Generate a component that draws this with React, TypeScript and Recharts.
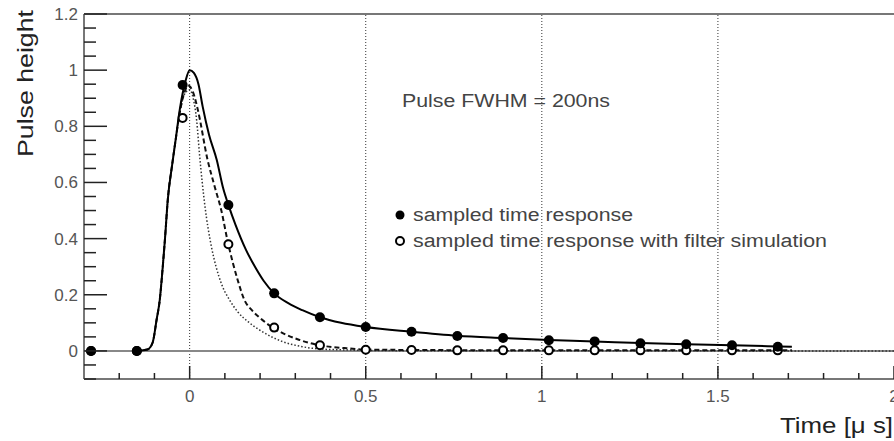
import { ComposedChart, Line, Scatter, XAxis, YAxis, ReferenceLine, Legend } from 'recharts';

const FONT = '"Liberation Sans", Arial, Helvetica, sans-serif';

// sampled points (filled = time response, open = with filter simulation)
const sampleTimes = [-0.28, -0.15, -0.02, 0.11, 0.24, 0.37, 0.5, 0.63, 0.76, 0.89, 1.02, 1.15, 1.28, 1.41, 1.54, 1.67];
const sampledResponse = [0, 0, 0.947, 0.52, 0.205, 0.12, 0.085, 0.068, 0.053, 0.046, 0.038, 0.034, 0.027, 0.024, 0.02, 0.015];
const filteredResponse = [0, 0, 0.83, 0.38, 0.083, 0.02, 0.004, 0.003, 0.002, 0.002, 0.002, 0.002, 0.002, 0.002, 0.002, 0.002];

// solid curve: full pulse response
const solidT = [-0.15, -0.12, -0.105, -0.094, -0.085, -0.077, -0.07, -0.062, -0.05, -0.04, -0.028, -0.012, 0, 0.012, 0.025, 0.037, 0.055, 0.077, 0.095, 0.11, 0.13, 0.16, 0.19, 0.21, 0.24, 0.28, 0.32, 0.37, 0.43, 0.5, 0.63, 0.76, 0.89, 1.02, 1.15, 1.28, 1.41, 1.54, 1.71];
const solidY = [0, 0.005, 0.03, 0.11, 0.18, 0.29, 0.4, 0.54, 0.66, 0.75, 0.86, 0.96, 1.0, 0.99, 0.95, 0.87, 0.77, 0.68, 0.58, 0.52, 0.45, 0.36, 0.29, 0.25, 0.205, 0.17, 0.145, 0.12, 0.1, 0.085, 0.068, 0.054, 0.046, 0.039, 0.034, 0.028, 0.024, 0.02, 0.015];

// dashed curve: with filter simulation
const dashedT = [-0.15, -0.12, -0.105, -0.094, -0.085, -0.077, -0.07, -0.062, -0.05, -0.04, -0.028, -0.015, -0.004, 0.01, 0.023, 0.051, 0.07, 0.09, 0.108, 0.137, 0.156, 0.176, 0.2, 0.23, 0.27, 0.31, 0.37, 0.44, 0.5, 0.7, 1.0, 1.71];
const dashedY = [0, 0.005, 0.03, 0.11, 0.18, 0.29, 0.4, 0.54, 0.66, 0.75, 0.85, 0.92, 0.945, 0.92, 0.86, 0.68, 0.59, 0.5, 0.39, 0.25, 0.18, 0.146, 0.117, 0.088, 0.06, 0.04, 0.02, 0.01, 0.005, 0.003, 0.002, 0.002];

// dotted curve: narrower pulse
const dottedT = [-0.15, -0.12, -0.105, -0.094, -0.085, -0.077, -0.07, -0.062, -0.05, -0.04, -0.028, -0.012, 0, 0.01, 0.02, 0.028, 0.043, 0.062, 0.075, 0.09, 0.114, 0.136, 0.17, 0.207, 0.26, 0.32, 0.4, 0.6, 2.0];
const dottedY = [0, 0.005, 0.03, 0.11, 0.18, 0.29, 0.4, 0.54, 0.66, 0.75, 0.85, 0.92, 0.93, 0.9, 0.82, 0.7, 0.52, 0.37, 0.3, 0.24, 0.18, 0.14, 0.1, 0.068, 0.035, 0.015, 0.005, 0.001, 0];

const xTicks = [-0.2, -0.1, 0, 0.1, 0.2, 0.3, 0.4, 0.5, 0.6, 0.7, 0.8, 0.9, 1, 1.1, 1.2, 1.3, 1.4, 1.5, 1.6, 1.7, 1.8, 1.9, 2];
const xLabels = [0, 0.5, 1, 1.5, 2];
const yTicks = [-0.1, -0.05, 0, 0.05, 0.1, 0.15, 0.2, 0.25, 0.3, 0.35, 0.4, 0.45, 0.5, 0.55, 0.6, 0.65, 0.7, 0.75, 0.8, 0.85, 0.9, 0.95, 1, 1.05, 1.1, 1.15, 1.2];
const yLabels = [0, 0.2, 0.4, 0.6, 0.8, 1, 1.2];
const gridX = [0, 0.5, 1, 1.5];

const pts = (t: number[], y: number[]) => t.map((x, i) => ({ x, y: y[i] }));
const solidData = pts(solidT, solidY);
const dashedData = pts(dashedT, dashedY);
const dottedData = pts(dottedT, dottedY);
const sampledData = pts(sampleTimes, sampledResponse);
const filteredData = pts(sampleTimes, filteredResponse);

const isLabel = (v: number, list: number[]) => list.some(l => Math.abs(l - v) < 1e-6);

function YTick({ x, y, payload }: any) {
  const v = payload.value;
  const major = isLabel(v, yLabels);
  return (
    <g>
      <line x1={x + 6} x2={x + 6 + (major ? 23 : 12)} y1={y} y2={y} stroke="#222" strokeWidth={1.5} />
      {major && (
        <text x={x} y={y} dy={6} textAnchor="end" fontSize={17} fill="#555" fontFamily={FONT}>{String(v)}</text>
      )}
    </g>
  );
}

function XTick({ x, y, payload }: any) {
  const v = payload.value;
  const major = isLabel(v, xLabels);
  return (
    <g>
      <line x1={x} x2={x} y1={y - 10} y2={y - 10 - (major ? 13 : 6)} stroke="#222" strokeWidth={1.5} />
      {major && (
        <text x={x} y={y} dy={13} textAnchor="middle" fontSize={17} fill="#555" fontFamily={FONT}>{String(v)}</text>
      )}
    </g>
  );
}

const YTitle = () => (
  <text transform="translate(33,157) rotate(-90)" fontSize={22} fill="#222" fontFamily={FONT} textLength={147} lengthAdjust="spacingAndGlyphs">Pulse height</text>
);
const XTitle = () => (
  <text x={893} y={433} textAnchor="end" fontSize={22} fill="#222" fontFamily={FONT} textLength={113} lengthAdjust="spacingAndGlyphs">Time [μ s]</text>
);

const filledDot = (p: any) => <circle cx={p.cx} cy={p.cy} r={5} fill="#000" />;
const openDot = (p: any) => <circle cx={p.cx} cy={p.cy} r={4} fill="#fff" stroke="#000" strokeWidth={2} />;

const LegendBox = () => (
  <svg width={460} height={52}>
    <circle cx={10} cy={15} r={4.5} fill="#000" />
    <text x={23} y={21} fontSize={18} fill="#444" fontFamily={FONT} textLength={220} lengthAdjust="spacingAndGlyphs">sampled time response</text>
    <circle cx={10} cy={41} r={4} fill="#fff" stroke="#000" strokeWidth={2} />
    <text x={23} y={47} fontSize={18} fill="#444" fontFamily={FONT} textLength={414} lengthAdjust="spacingAndGlyphs">sampled time response with filter simulation</text>
  </svg>
);

export default function App() {
  return (
    <div style={{ position: 'absolute', left: 0, top: 0, width: 894, height: 441, background: '#fff' }}>
      <ComposedChart width={894} height={441} margin={{ top: 14, right: 0, bottom: 0, left: 0 }}>
        <XAxis
          dataKey="x"
          type="number"
          domain={[-0.3, 2]}
          ticks={xTicks}
          interval={0}
          tick={<XTick />}
          tickLine={false}
          tickSize={0}
          tickMargin={10}
          height={62}
          axisLine={{ stroke: '#777', strokeWidth: 2 }}
          allowDataOverflow
          label={<XTitle />}
        />
        <YAxis
          type="number"
          domain={[-0.1, 1.2]}
          ticks={yTicks}
          interval={0}
          tick={<YTick />}
          tickLine={false}
          tickSize={0}
          tickMargin={6}
          width={84}
          axisLine={{ stroke: '#777', strokeWidth: 2 }}
          allowDataOverflow
          label={<YTitle />}
        />
        {gridX.map(g => (
          <ReferenceLine key={g} x={g} stroke="#333" strokeWidth={1} strokeDasharray="1 2" />
        ))}
        <ReferenceLine y={0} stroke="#888" strokeWidth={2} />
        <ReferenceLine y={1.2} stroke="#777" strokeWidth={2} />
        <Line data={dottedData} dataKey="y" type="monotone" stroke="#333" strokeWidth={1.5} strokeDasharray="1.5 2" dot={false} isAnimationActive={false} legendType="none" />
        <Line data={dashedData} dataKey="y" type="monotone" stroke="#111" strokeWidth={2} strokeDasharray="5 3" dot={false} isAnimationActive={false} legendType="none" />
        <Line data={solidData} dataKey="y" type="monotone" stroke="#000" strokeWidth={2} dot={false} isAnimationActive={false} legendType="none" />
        <Scatter data={filteredData} dataKey="y" shape={openDot} isAnimationActive={false} />
        <Scatter data={sampledData} dataKey="y" shape={filledDot} isAnimationActive={false} />
        <Legend
          layout="vertical"
          verticalAlign="middle"
          align="center"
          content={<LegendBox />}
          wrapperStyle={{ left: 390, top: 200, width: 460, height: 52 }}
        />
      </ComposedChart>
      <svg width={894} height={441} style={{ position: 'absolute', left: 0, top: 0, pointerEvents: 'none' }}>
        <text x={402} y={107} fontSize={18} fill="#444" fontFamily={FONT} textLength={208} lengthAdjust="spacingAndGlyphs">Pulse FWHM = 200ns</text>
      </svg>
    </div>
  );
}
